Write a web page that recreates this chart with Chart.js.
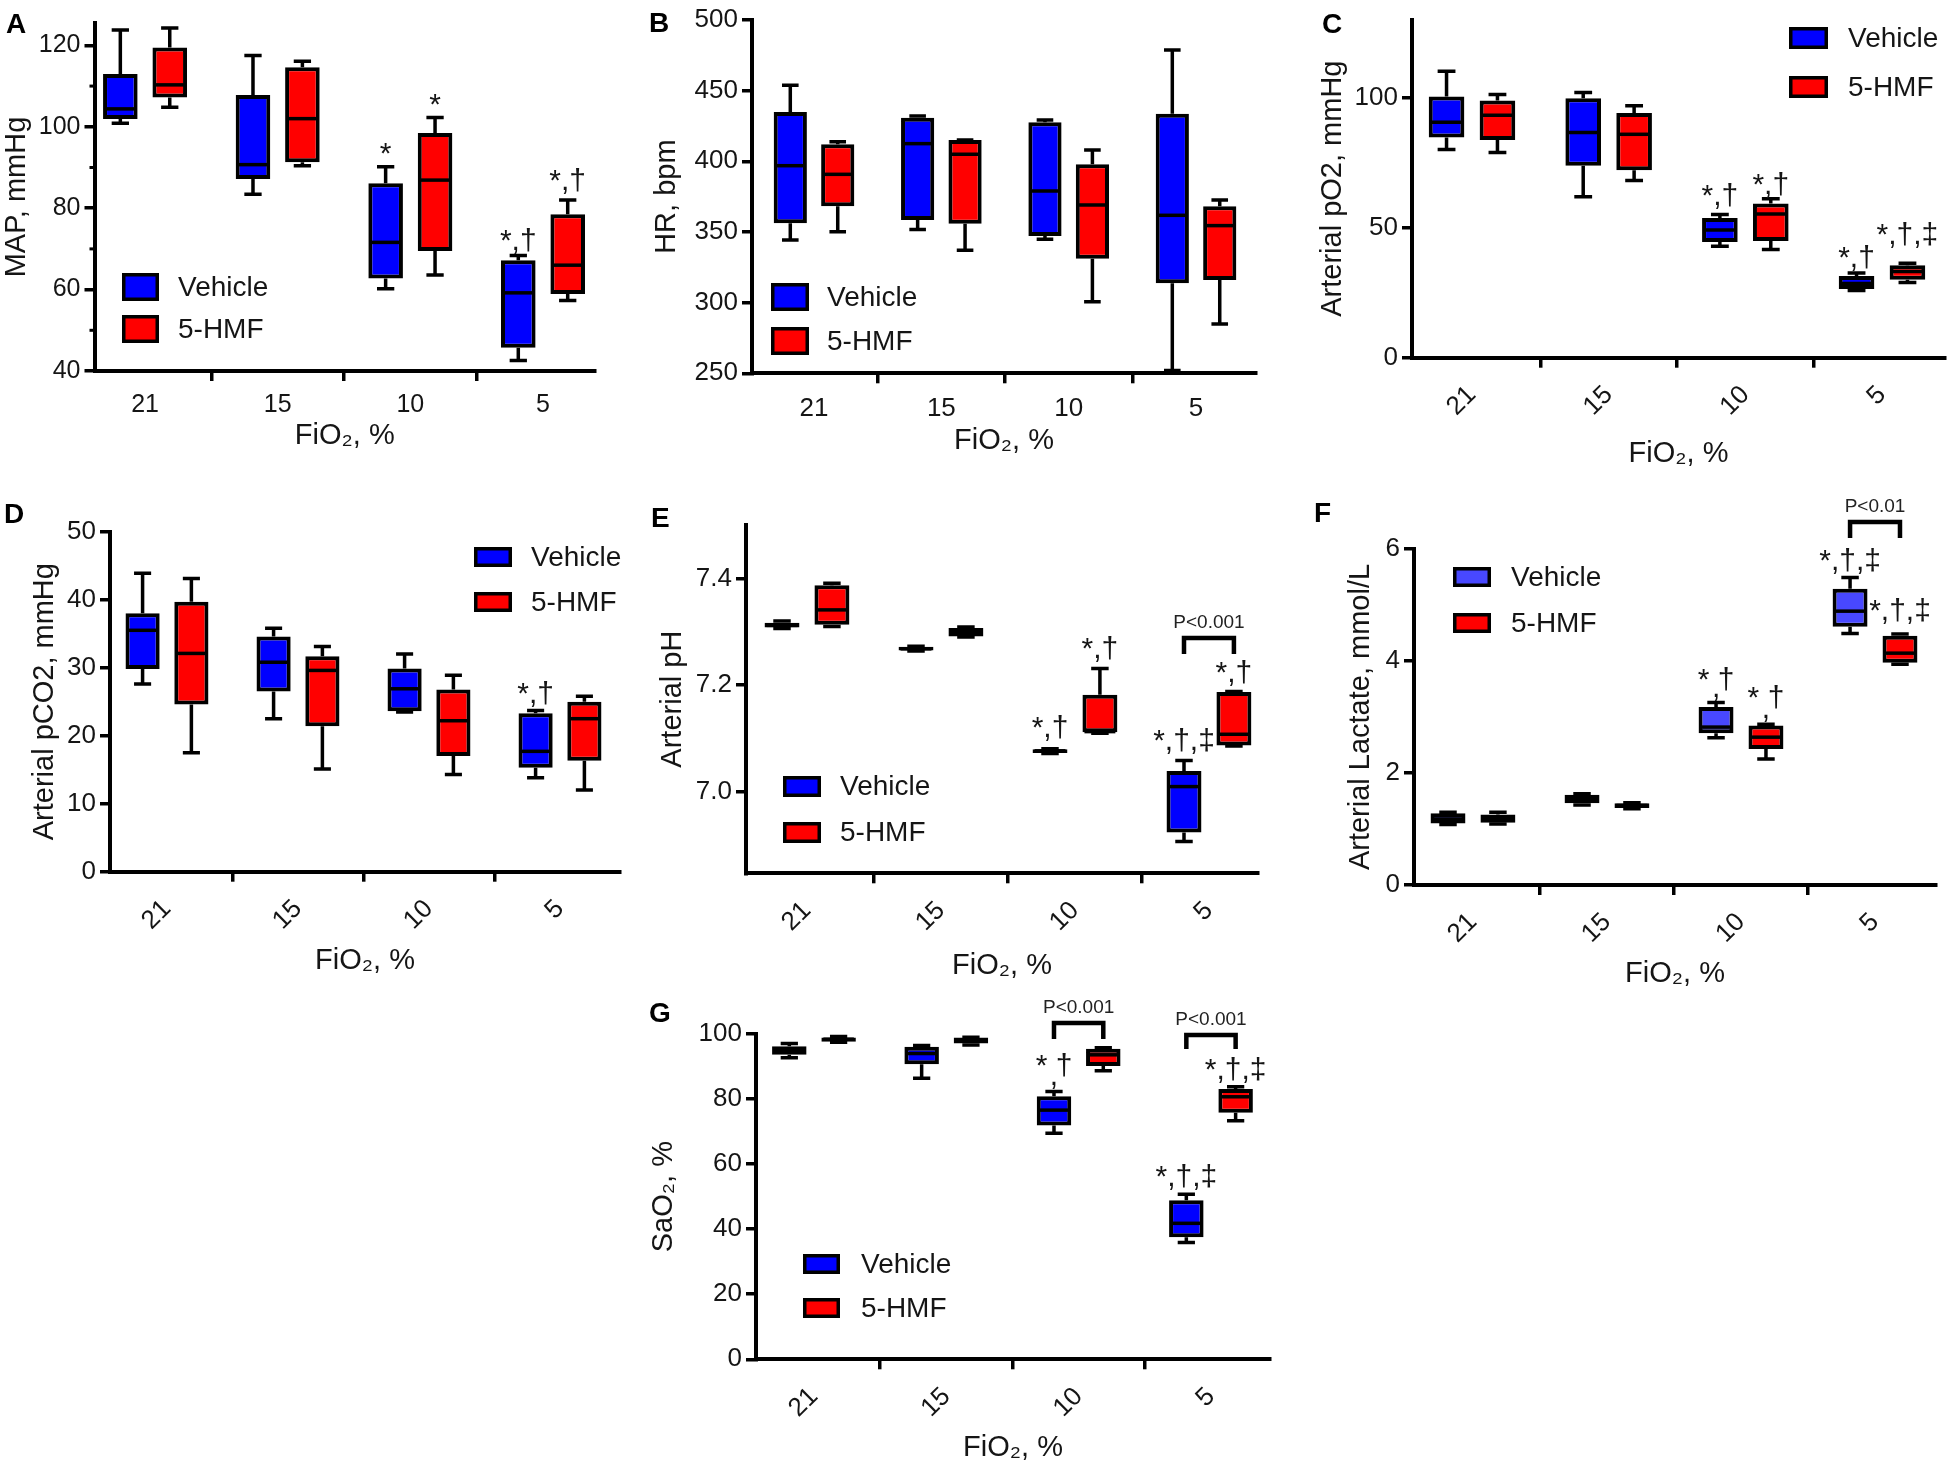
<!DOCTYPE html>
<html><head><meta charset="utf-8">
<script src="https://cdn.jsdelivr.net/npm/chart.js@4.4.1/dist/chart.umd.min.js"></script>
<style>
html,body{margin:0;padding:0;background:#fff;}
body{width:1950px;height:1466px;position:relative;overflow:hidden;}
.p{position:absolute;}
.p canvas{display:block;}
</style></head><body>
<div class="p" id="pA"><canvas></canvas></div>
<div class="p" id="pB"><canvas></canvas></div>
<div class="p" id="pC"><canvas></canvas></div>
<div class="p" id="pD"><canvas></canvas></div>
<div class="p" id="pE"><canvas></canvas></div>
<div class="p" id="pF"><canvas></canvas></div>
<div class="p" id="pG"><canvas></canvas></div>
<script>
// ---------------- DATA ----------------
const FIO2 = ['21', '15', '10', '5'];
const SERIES = ['Vehicle', '5-HMF'];
// each row = [min, Q1, median, Q3, max] for FiO2 21, 15, 10, 5
const mapVehicle = [[100.9,101.9,104.4,113.0,123.8],[83.4,87.2,90.7,107.8,117.5],[60.2,62.7,71.6,86.1,90.2],[42.6,45.7,59.2,67.2,68.4]];
const mapHMF     = [[104.8,107.2,110.3,119.5,124.3],[90.4,91.3,102.0,114.6,116.1],[63.6,69.5,86.9,98.5,102.3],[57.3,58.9,66.0,78.5,82.0]];
const hrVehicle  = [[344.3,356.1,396.9,434.9,453.8],[351.7,358.5,412.5,430.9,432.1],[344.8,347.2,379.0,427.6,429.2],[251.9,313.7,361.8,433.7,478.8]];
const hrHMF      = [[350.2,368.2,390.8,412.0,413.9],[337.0,355.9,405.0,415.0,415.1],[300.7,331.1,369.1,397.9,408.0],[284.9,316.0,354.5,368.2,372.6]];
const po2Vehicle = [[80.1,84.7,90.5,100.4,110.1],[61.9,73.8,86.6,99.8,102.0],[42.9,44.5,49.1,53.7,55.1],[25.8,26.4,28.5,31.4,32.6]];
const po2HMF     = [[78.9,83.7,93.2,98.9,101.2],[68.1,72.1,85.9,94.1,96.9],[41.6,44.9,55.3,59.3,61.1],[28.9,30.0,33.1,35.5,36.3]];
const pco2Vehicle= [[27.6,29.8,35.5,38.0,43.9],[22.5,26.5,30.8,34.6,35.8],[23.5,23.6,26.9,29.9,32.0],[13.8,15.3,17.7,23.3,23.7]];
const pco2HMF    = [[17.5,24.6,32.1,39.7,43.1],[15.1,21.4,29.6,31.7,33.1],[14.3,17.0,22.2,26.8,28.9],[12.0,16.3,22.5,25.0,25.8]];
const phVehicle  = [[7.306,7.308,7.312,7.317,7.320],[7.264,7.265,7.268,7.272,7.273],[7.072,7.073,7.077,7.080,7.081],[6.907,6.924,7.010,7.039,7.059]];
const phHMF      = [[7.310,7.313,7.341,7.387,7.391],[7.290,7.291,7.299,7.307,7.309],[7.110,7.112,7.113,7.182,7.231],[7.086,7.087,7.108,7.187,7.188]];
const lacVehicle = [[1.08,1.10,1.18,1.28,1.30],[1.43,1.46,1.53,1.61,1.63],[2.63,2.71,2.82,3.18,3.26],[4.49,4.61,4.89,5.29,5.49]];
const lacHMF     = [[1.09,1.11,1.18,1.26,1.30],[1.36,1.375,1.42,1.46,1.47],[2.25,2.43,2.64,2.85,2.87],[3.94,3.97,4.14,4.45,4.48]];
const sao2Vehicle= [[92.7,93.6,95.2,96.2,97.1],[86.4,90.7,94.0,96.1,96.5],[69.5,71.9,76.6,80.9,82.3],[35.9,37.5,41.8,48.9,50.7]];
const sao2HMF    = [[97.5,97.6,98.4,98.9,99.2],[96.6,97.1,98.0,98.9,99.0],[88.7,90.2,93.6,95.5,95.8],[73.3,75.8,80.7,83.1,83.8]];
// y tick labels
const mapTicks  = [40, 60, 80, 100, 120];
const mapMinorTicks = [50, 70, 90, 110];
const hrTicks   = [250, 300, 350, 400, 450, 500];
const po2Ticks  = [0, 50, 100];
const pco2Ticks = [0, 10, 20, 30, 40, 50];
const phTicks   = [7.0, 7.2, 7.4];
const lacTicks  = [0, 2, 4, 6];
const sao2Ticks = [0, 20, 40, 60, 80, 100];
// significance marks: [FiO2 index, series index, text]
const mapMarks  = [[2,0,'*'],[2,1,'*'],[3,0,'*,†'],[3,1,'*,†']];
const po2Marks  = [[2,0,'*,†'],[2,1,'*,†'],[3,0,'*,†'],[3,1,'*,†,‡']];
const pco2Marks = [[3,0,'*,†']];
const phMarks   = [[2,0,'*,†'],[2,1,'*,†'],[3,0,'*,†,‡'],[3,1,'*,†']];
const lacMarks  = [[2,0,'* †'],[2,0,','],[2,1,'* †'],[2,1,','],[3,0,'*,†,‡'],[3,1,'*,†,‡']];
const sao2Marks = [[2,0,'* †'],[2,0,','],[3,0,'*,†,‡'],[3,1,'*,†,‡']];
// pairwise comparisons: [FiO2 index, label]
const phPairs   = [[3,'P<0.001']];
const lacPairs  = [[3,'P<0.01']];
const sao2Pairs = [[2,'P<0.001'],[3,'P<0.001']];

// ---------------- STYLE ----------------
const FONT = '"Liberation Sans", Arial, "DejaVu Sans", sans-serif';
const TXT = '#151515';
const BLUE = '#0000ff', RED = '#ff0000', LBLUE = '#4848ff';
const LW = 3.5;

function extras(p) {
  return {
    id: 'extras_' + p.id,
    beforeDatasetsDraw(chart) {
      const ctx = chart.ctx, ys = chart.scales.y;
      ctx.save();
      ctx.strokeStyle = '#000'; ctx.lineWidth = LW; ctx.lineCap = 'butt';
      chart.data.datasets.forEach((ds, di) => {
        const meta = chart.getDatasetMeta(di);
        ds.stats.forEach((st, i) => {
          const el = meta.data[i]; const x = el.x, w = el.width, cw = w * 0.5;
          const pMin = ys.getPixelForValue(st[0]), pQ1 = ys.getPixelForValue(st[1]);
          const pQ3 = ys.getPixelForValue(st[3]), pMax = ys.getPixelForValue(st[4]);
          ctx.beginPath();
          ctx.moveTo(x, pQ3); ctx.lineTo(x, pMax);
          ctx.moveTo(x - cw/2, pMax); ctx.lineTo(x + cw/2, pMax);
          ctx.moveTo(x, pQ1); ctx.lineTo(x, pMin);
          ctx.moveTo(x - cw/2, pMin); ctx.lineTo(x + cw/2, pMin);
          ctx.stroke();
        });
      });
      ctx.restore();
    },
    afterDatasetsDraw(chart) {
      const ctx = chart.ctx, ys = chart.scales.y;
      ctx.save();
      ctx.strokeStyle = '#000'; ctx.lineWidth = LW;
      chart.data.datasets.forEach((ds, di) => {
        const meta = chart.getDatasetMeta(di);
        ds.stats.forEach((st, i) => {
          const el = meta.data[i]; const x = el.x, w = el.width;
          const pm = ys.getPixelForValue(st[2]);
          ctx.beginPath(); ctx.moveTo(x - w/2 + 2, pm); ctx.lineTo(x + w/2 - 2, pm); ctx.stroke();
        });
      });
      ctx.restore();
    },
    afterDraw(chart) {
      const ctx = chart.ctx, ys = chart.scales.y, area = chart.chartArea;
      const ox = p.rect[0], oy = p.rect[1];
      ctx.save();
      // minor ticks
      if (p.minor) {
        ctx.strokeStyle = '#000'; ctx.lineWidth = 3;
        p.minor.forEach(v => {
          const y = ys.getPixelForValue(v);
          ctx.beginPath(); ctx.moveTo(area.left - 5, y); ctx.lineTo(area.left, y); ctx.stroke();
        });
      }
      ctx.fillStyle = TXT;
      // significance marks
      ctx.font = '30px ' + FONT; ctx.textAlign = 'center'; ctx.textBaseline = 'alphabetic';
      (p.marks || []).forEach((m, k) => {
        const [g, s, t] = m;
        const el = chart.getDatasetMeta(s).data[g];
        const st = chart.data.datasets[s].stats[g];
        const off = p.markOff[k];
        ctx.fillText(t, el.x, ys.getPixelForValue(st[4]) - off);
      });
      // brackets
      (p.pairs || []).forEach((pr, k) => {
        const [g, t] = pr;
        const x0 = chart.getDatasetMeta(0).data[g].x, x1 = chart.getDatasetMeta(1).data[g].x;
        const [topY, legY] = p.pairPx[k].map(v => v - oy);
        ctx.strokeStyle = '#000'; ctx.lineWidth = 4.5; ctx.lineJoin = 'miter';
        ctx.beginPath(); ctx.moveTo(x0, legY); ctx.lineTo(x0, topY); ctx.lineTo(x1, topY); ctx.lineTo(x1, legY); ctx.stroke();
        ctx.font = '19px ' + FONT; ctx.textAlign = 'center'; ctx.textBaseline = 'middle';
        ctx.fillStyle = '#222';
        ctx.fillText(t, (x0 + x1) / 2, topY - 15);
      });
      // legend
      const lg = p.legend;
      const cols = p.colors;
      ctx.font = '28px ' + FONT; ctx.textAlign = 'left'; ctx.textBaseline = 'middle';
      [0, 1].forEach(i => {
        const x = lg.x - ox, y = lg.y[i] - oy;
        ctx.fillStyle = cols[i];
        ctx.fillRect(x, y, lg.w, lg.h);
        ctx.strokeStyle = '#000'; ctx.lineWidth = 3.5;
        ctx.strokeRect(x + 1.75, y + 1.75, lg.w - 3.5, lg.h - 3.5);
        ctx.fillStyle = TXT;
        ctx.fillText(SERIES[i], lg.tx - ox, y + lg.h / 2 + 1);
      });
      // panel letter
      ctx.font = 'bold 28px ' + FONT; ctx.textAlign = 'left'; ctx.textBaseline = 'alphabetic';
      ctx.fillStyle = '#000';
      ctx.fillText(p.letter, p.letterPos[0] - ox, p.letterPos[1] - oy + 20);
      ctx.restore();
    }
  };
}

function makePanel(p) {
  const wrap = document.getElementById(p.id);
  const [cx, cy, cw, ch] = p.rect;
  wrap.style.left = cx + 'px'; wrap.style.top = cy + 'px';
  wrap.style.width = cw + 'px'; wrap.style.height = ch + 'px';
  const canvas = wrap.querySelector('canvas');
  canvas.width = cw; canvas.height = ch;
  canvas.style.width = cw + 'px'; canvas.style.height = ch + 'px';
  const [L, T, R, B] = p.area;
  const yW = L - cx, padTop = T - cy, padRight = cx + cw - R, xH = cy + ch - B;
  const gridOpt = { display: true, drawOnChartArea: false, drawTicks: true, tickLength: 10, color: '#000', lineWidth: LW };
  const borderOpt = { display: true, color: '#000', width: 4 };
  new Chart(canvas, {
    type: 'bar',
    data: {
      datasets: p.data.map((stats, si) => ({
        label: SERIES[si],
        data: stats.map((st, i) => ({ x: i, y: [st[1], st[3]] })),
        stats: stats,
        backgroundColor: p.colors[si],
        borderColor: '#000', borderWidth: 4, borderSkipped: false,
        categoryPercentage: 0.745, barPercentage: 0.70
      }))
    },
    options: {
      responsive: false, animation: false, devicePixelRatio: 1,
      layout: { padding: { left: 0, top: padTop, right: padRight, bottom: 0 }, autoPadding: false },
      plugins: { legend: { display: false }, tooltip: { enabled: false } },
      scales: {
        x: {
          type: 'linear', min: p.xMin, max: p.xMax, offset: false,
          afterBuildTicks: s => { s.ticks = FIO2.map((_, i) => ({ value: i })); },
          afterFit: s => { s.height = xH; },
          ticks: {
            callback: v => FIO2[v], autoSkip: false,
            maxRotation: p.rot, minRotation: p.rot, padding: p.xTickPad,
            font: { family: FONT, size: p.tickSize }, color: TXT
          },
          grid: gridOpt, border: borderOpt,
          title: { display: true, text: 'FiO₂, %', color: TXT, font: { family: FONT, size: 29 }, padding: { top: 0, bottom: p.xTitlePad } }
        },
        y: {
          type: 'linear', min: p.yMin, max: p.yMax,
          afterBuildTicks: s => { s.ticks = p.yTicks.map(v => ({ value: v })); },
          afterFit: s => { s.width = yW; },
          ticks: {
            callback: v => p.yFmt ? p.yFmt(v) : String(v),
            padding: 4, font: { family: FONT, size: p.tickSize }, color: TXT
          },
          grid: gridOpt, border: borderOpt,
          title: { display: true, text: p.yTitle, color: TXT, font: { family: FONT, size: 29 }, padding: { top: p.yTitlePad, bottom: 0 } }
        }
      }
    },
    plugins: [extras(p)]
  });
}

const panels = [
  { id: 'pA', letter: 'A', letterPos: [6, 13], rect: [0, 0, 615, 465], area: [94.5, 23, 595, 371],
    xMin: -0.381, xMax: 3.392, yMin: 40, yMax: 125.5, yTicks: mapTicks, minor: mapMinorTicks, yTitle: 'MAP, mmHg',
    data: [mapVehicle, mapHMF], colors: [BLUE, RED], rot: 0, tickSize: 25, xTickPad: 9,
    xTitlePad: 12, yTitlePad: 0, marks: mapMarks, markOff: [4, 3, 5, 10],
    legend: { x: 122, y: [273, 315], w: 37, h: 28, tx: 178 } },
  { id: 'pB', letter: 'B', letterPos: [649, 12], rect: [630, 0, 640, 465], area: [752, 20, 1256, 373.3],
    xMin: -0.487, xMax: 3.471, yMin: 250, yMax: 500, yTicks: hrTicks, yTitle: 'HR, bpm',
    data: [hrVehicle, hrHMF], colors: [BLUE, RED], rot: 0, tickSize: 26, xTickPad: 10,
    xTitlePad: 7, yTitlePad: 20, marks: [], markOff: [],
    legend: { x: 771, y: [283, 327], w: 38, h: 28, tx: 827 } },
  { id: 'pC', letter: 'C', letterPos: [1322, 13], rect: [1300, 0, 650, 480], area: [1412, 3.3, 1945, 357.7],
    xMin: -0.439, xMax: 3.461, yMin: 0, yMax: 130, yTicks: po2Ticks, yTitle: 'Arterial pO2, mmHg',
    data: [po2Vehicle, po2HMF], colors: [BLUE, RED], rot: 45, tickSize: 26, xTickPad: 12,
    xTitlePad: 9, yTitlePad: 16, marks: po2Marks, markOff: [9, 5, 6, 19],
    legend: { x: 1789, y: [27, 76], w: 39, h: 22, tx: 1848 } },
  { id: 'pD', letter: 'D', letterPos: [4, 503], rect: [0, 495, 630, 490], area: [110, 531.7, 620, 871.7],
    xMin: -0.435, xMax: 3.458, yMin: 0, yMax: 50, yTicks: pco2Ticks, yTitle: 'Arterial pCO2, mmHg',
    data: [pco2Vehicle, pco2HMF], colors: [BLUE, RED], rot: 45, tickSize: 26, xTickPad: 12,
    xTitlePad: 7, yTitlePad: 28, marks: pco2Marks, markOff: [8],
    legend: { x: 474, y: [547, 592], w: 38, h: 20, tx: 531 } },
  { id: 'pE', letter: 'E', letterPos: [651, 507], rect: [630, 495, 640, 495], area: [746, 525, 1258, 873.3],
    xMin: -0.455, xMax: 3.366, yMin: 6.8476, yMax: 7.5, yTicks: phTicks, yTitle: 'Arterial pH',
    yFmt: v => v.toFixed(1),
    data: [phVehicle, phHMF], colors: [BLUE, RED], rot: 45, tickSize: 26, xTickPad: 12,
    xTitlePad: 7, yTitlePad: 26, marks: phMarks, markOff: [12, 11, 10, 10],
    pairs: phPairs, pairPx: [[638, 654]],
    legend: { x: 783, y: [776, 822], w: 38, h: 21, tx: 840 } },
  { id: 'pF', letter: 'F', letterPos: [1314, 502], rect: [1300, 490, 650, 505], area: [1414, 549, 1936, 885],
    xMin: -0.44, xMax: 3.455, yMin: 0, yMax: 6, yTicks: lacTicks, yTitle: 'Arterial Lactate, mmol/L',
    data: [lacVehicle, lacHMF], colors: [LBLUE, RED], rot: 45, tickSize: 26, xTickPad: 12,
    xTitlePad: 4, yTitlePad: 44, marks: lacMarks, markOff: [13, 5, 17, 6, 8, 14],
    pairs: lacPairs, pairPx: [[522, 538]],
    legend: { x: 1453, y: [567, 613], w: 38, h: 20, tx: 1511 } },
  { id: 'pG', letter: 'G', letterPos: [649, 1002], rect: [630, 995, 650, 471], area: [756, 1034, 1270, 1359.3],
    xMin: -0.438, xMax: 3.446, yMin: 0, yMax: 100, yTicks: sao2Ticks, yTitle: 'SaO₂, %',
    data: [sao2Vehicle, sao2HMF], colors: [BLUE, RED], rot: 45, tickSize: 26, xTickPad: 12,
    xTitlePad: 1, yTitlePad: 17, marks: sao2Marks, markOff: [17, 7, 8, 8],
    pairs: sao2Pairs, pairPx: [[1023, 1039], [1035, 1049]],
    legend: { x: 803, y: [1254, 1298], w: 37, h: 20, tx: 861 } }
];
panels.forEach(makePanel);
</script>
</body></html>
